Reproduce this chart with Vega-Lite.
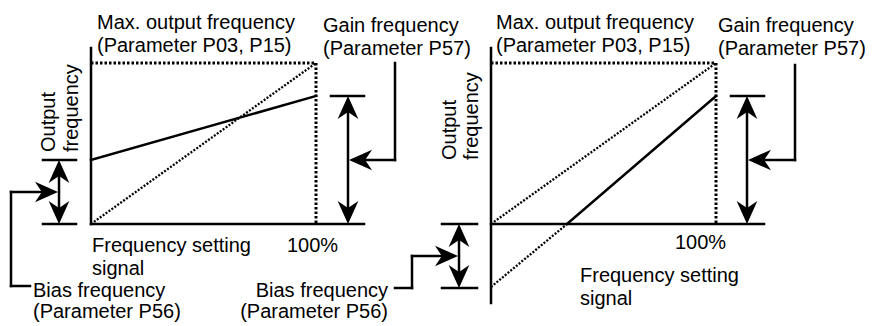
{
  "$schema": "https://vega.github.io/schema/vega-lite/v6.json",
  "width": 873,
  "height": 326,
  "autosize": {"type": "fit", "contains": "padding"},
  "padding": 0,
  "background": "white",
  "config": {"view": {"stroke": null}},
  "datasets": {
    "segments": [
      {"panel": "A", "kind": "solid", "x": 91, "y": 48, "x2": 91, "y2": 224},
      {"panel": "A", "kind": "solid", "x": 91, "y": 224, "x2": 364, "y2": 224},
      {"panel": "A", "kind": "frame", "x": 91, "y": 63, "x2": 316, "y2": 63},
      {"panel": "A", "kind": "frame", "x": 316, "y": 63, "x2": 316, "y2": 224},
      {"panel": "A", "kind": "diag", "x": 91, "y": 224, "x2": 316, "y2": 63},
      {"panel": "A", "kind": "solid", "x": 91, "y": 160, "x2": 316, "y2": 96},
      {"panel": "A", "kind": "solid", "x": 43, "y": 160, "x2": 76, "y2": 160},
      {"panel": "A", "kind": "solid", "x": 43, "y": 224, "x2": 76, "y2": 224},
      {"panel": "A", "kind": "solid", "x": 59, "y": 170, "x2": 59, "y2": 214},
      {"panel": "A", "kind": "solid", "x": 331, "y": 96, "x2": 364, "y2": 96},
      {"panel": "A", "kind": "solid", "x": 348, "y": 106, "x2": 348, "y2": 214},
      {"panel": "A", "kind": "solid", "x": 395, "y": 63, "x2": 395, "y2": 160},
      {"panel": "A", "kind": "solid", "x": 395, "y": 160, "x2": 360, "y2": 160},
      {"panel": "A", "kind": "solid", "x": 30, "y": 286, "x2": 11, "y2": 286},
      {"panel": "A", "kind": "solid", "x": 11, "y": 286, "x2": 11, "y2": 192},
      {"panel": "A", "kind": "solid", "x": 11, "y": 192, "x2": 45, "y2": 192},
      {"panel": "B", "kind": "solid", "x": 491, "y": 48, "x2": 491, "y2": 303},
      {"panel": "B", "kind": "solid", "x": 491, "y": 224, "x2": 764, "y2": 224},
      {"panel": "B", "kind": "frame", "x": 491, "y": 63, "x2": 716, "y2": 63},
      {"panel": "B", "kind": "frame", "x": 716, "y": 63, "x2": 716, "y2": 224},
      {"panel": "B", "kind": "diag", "x": 491, "y": 224, "x2": 716, "y2": 63},
      {"panel": "B", "kind": "diag", "x": 491, "y": 287, "x2": 567, "y2": 224},
      {"panel": "B", "kind": "solid", "x": 567, "y": 224, "x2": 716, "y2": 96},
      {"panel": "B", "kind": "solid", "x": 442, "y": 224, "x2": 477, "y2": 224},
      {"panel": "B", "kind": "solid", "x": 442, "y": 288, "x2": 477, "y2": 288},
      {"panel": "B", "kind": "solid", "x": 459, "y": 234, "x2": 459, "y2": 278},
      {"panel": "B", "kind": "solid", "x": 395, "y": 288, "x2": 412, "y2": 288},
      {"panel": "B", "kind": "solid", "x": 412, "y": 288, "x2": 412, "y2": 256},
      {"panel": "B", "kind": "solid", "x": 412, "y": 256, "x2": 445, "y2": 256},
      {"panel": "B", "kind": "solid", "x": 731, "y": 96, "x2": 764, "y2": 96},
      {"panel": "B", "kind": "solid", "x": 747, "y": 106, "x2": 747, "y2": 214},
      {"panel": "B", "kind": "solid", "x": 795, "y": 65, "x2": 795, "y2": 160},
      {"panel": "B", "kind": "solid", "x": 795, "y": 160, "x2": 760, "y2": 160}
    ],
    "arrows": [
      {"x": 59, "y": 160, "dir": "up"},
      {"x": 59, "y": 224, "dir": "down"},
      {"x": 58, "y": 192, "dir": "right"},
      {"x": 348, "y": 96, "dir": "up"},
      {"x": 348, "y": 224, "dir": "down"},
      {"x": 349, "y": 160, "dir": "left"},
      {"x": 459, "y": 224, "dir": "up"},
      {"x": 459, "y": 288, "dir": "down"},
      {"x": 458, "y": 256, "dir": "right"},
      {"x": 747, "y": 96, "dir": "up"},
      {"x": 747, "y": 224, "dir": "down"},
      {"x": 748, "y": 160, "dir": "left"}
    ],
    "labels": [
      {"kind": "left", "x": 97, "y": 29, "text": "Max. output frequency"},
      {"kind": "left", "x": 97, "y": 52, "text": "(Parameter P03, P15)"},
      {"kind": "left", "x": 323, "y": 32, "text": "Gain frequency"},
      {"kind": "left", "x": 323, "y": 55, "text": "(Parameter P57)"},
      {"kind": "left", "x": 92, "y": 252, "text": "Frequency setting"},
      {"kind": "left", "x": 92, "y": 275, "text": "signal"},
      {"kind": "left", "x": 287, "y": 252, "text": "100%"},
      {"kind": "left", "x": 33, "y": 297, "text": "Bias frequency"},
      {"kind": "left", "x": 33, "y": 318, "text": "(Parameter P56)"},
      {"kind": "left", "x": 496, "y": 29, "text": "Max. output frequency"},
      {"kind": "left", "x": 496, "y": 52, "text": "(Parameter P03, P15)"},
      {"kind": "left", "x": 718, "y": 32, "text": "Gain frequency"},
      {"kind": "left", "x": 718, "y": 55, "text": "(Parameter P57)"},
      {"kind": "left", "x": 675, "y": 249, "text": "100%"},
      {"kind": "left", "x": 580, "y": 282, "text": "Frequency setting"},
      {"kind": "left", "x": 580, "y": 305, "text": "signal"},
      {"kind": "right", "x": 388, "y": 297, "text": "Bias frequency"},
      {"kind": "right", "x": 388, "y": 318, "text": "(Parameter P56)"},
      {"kind": "vertical", "x": 55, "y": 152, "text": "Output"},
      {"kind": "vertical", "x": 78, "y": 152, "text": "frequency"},
      {"kind": "vertical", "x": 456, "y": 160, "text": "Output"},
      {"kind": "vertical", "x": 478, "y": 160, "text": "frequency"}
    ]
  },
  "encoding": {
    "x": {"field": "x", "type": "quantitative", "scale": {"domain": [0, 873], "nice": false, "zero": false}, "axis": null},
    "y": {"field": "y", "type": "quantitative", "scale": {"domain": [0, 326], "nice": false, "zero": false, "reverse": true}, "axis": null}
  },
  "layer": [
    {
      "data": {"name": "segments"},
      "transform": [{"filter": "datum.kind === 'solid'"}],
      "mark": {"type": "rule", "color": "black", "strokeWidth": 2.5, "strokeCap": "square"},
      "encoding": {"x2": {"field": "x2"}, "y2": {"field": "y2"}}
    },
    {
      "data": {"name": "segments"},
      "transform": [{"filter": "datum.kind === 'frame'"}],
      "mark": {"type": "rule", "color": "black", "strokeWidth": 3, "strokeDash": [2.5, 2]},
      "encoding": {"x2": {"field": "x2"}, "y2": {"field": "y2"}}
    },
    {
      "data": {"name": "segments"},
      "transform": [{"filter": "datum.kind === 'diag'"}],
      "mark": {"type": "rule", "color": "black", "strokeWidth": 2.3, "strokeDash": [2, 1.6]},
      "encoding": {"x2": {"field": "x2"}, "y2": {"field": "y2"}}
    },
    {
      "data": {"name": "arrows"},
      "mark": {"type": "point", "filled": true, "color": "black", "opacity": 1, "size": 530, "strokeWidth": 0},
      "encoding": {
        "shape": {
          "field": "dir", "type": "nominal", "legend": null,
          "scale": {
            "domain": ["up", "down", "left", "right"],
            "range": [
              "M0,0 L0.9,2 L0,1.4 L-0.9,2 Z",
              "M0,0 L0.9,-2 L0,-1.4 L-0.9,-2 Z",
              "M0,0 L2,-0.9 L1.4,0 L2,0.9 Z",
              "M0,0 L-2,-0.9 L-1.4,0 L-2,0.9 Z"
            ]
          }
        }
      }
    },
    {
      "data": {"name": "labels"},
      "transform": [{"filter": "datum.kind === 'left'"}],
      "mark": {"type": "text", "align": "left", "baseline": "alphabetic", "font": "Liberation Sans", "fontSize": 20, "color": "black"},
      "encoding": {"text": {"field": "text"}}
    },
    {
      "data": {"name": "labels"},
      "transform": [{"filter": "datum.kind === 'right'"}],
      "mark": {"type": "text", "align": "right", "baseline": "alphabetic", "font": "Liberation Sans", "fontSize": 20, "color": "black"},
      "encoding": {"text": {"field": "text"}}
    },
    {
      "data": {"name": "labels"},
      "transform": [{"filter": "datum.kind === 'vertical'"}],
      "mark": {"type": "text", "align": "left", "baseline": "alphabetic", "angle": 270, "font": "Liberation Sans", "fontSize": 20, "color": "black"},
      "encoding": {"text": {"field": "text"}}
    }
  ]
}
